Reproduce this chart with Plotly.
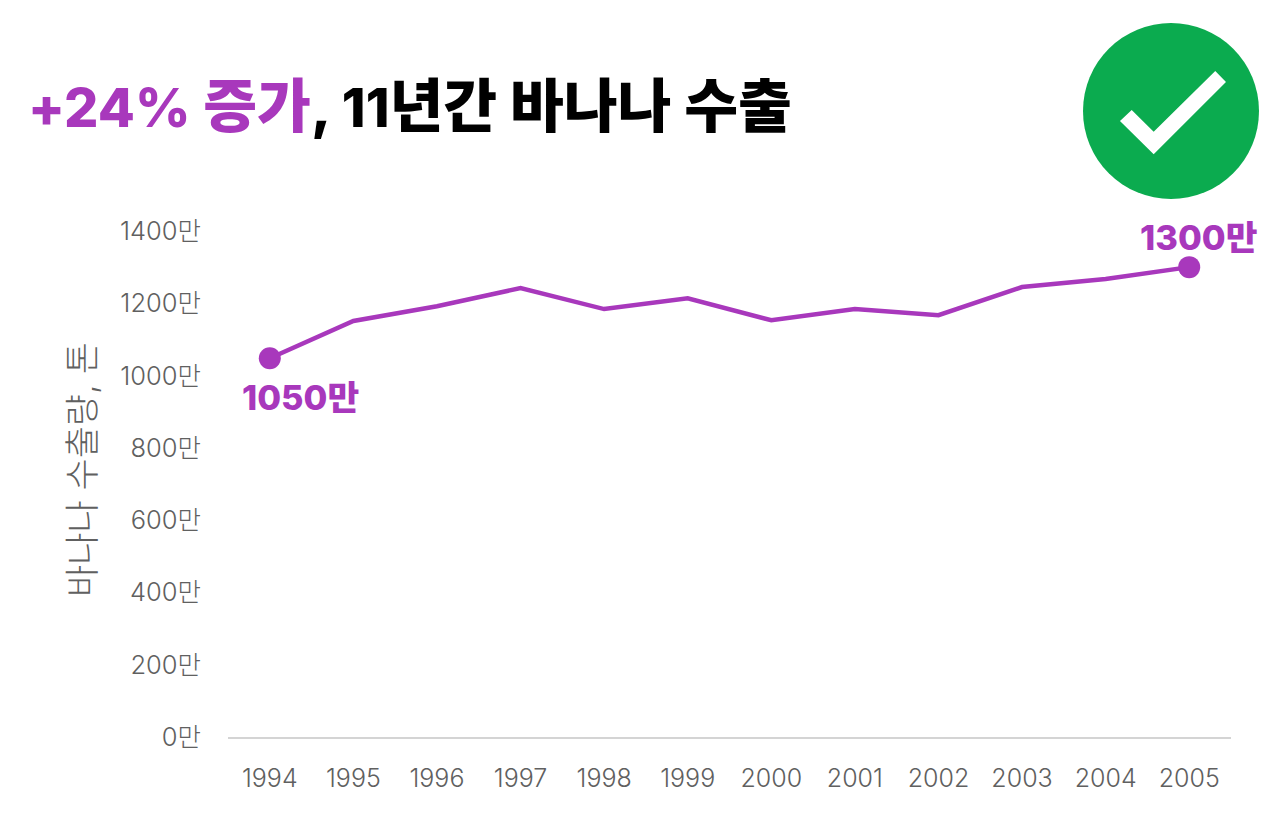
import plotly.graph_objects as go

years = ["1994", "1995", "1996", "1997", "1998", "1999", "2000", "2001", "2002", "2003", "2004", "2005"]
exports = [1048, 1151, 1192, 1242, 1184, 1214, 1153, 1184, 1167, 1245, 1267, 1300]
y_ticks = [0, 200, 400, 600, 800, 1000, 1200, 1400]
y_tick_labels = ["0만", "200만", "400만", "600만", "800만", "1000만", "1200만", "1400만"]
end_labels = ["1050만", "1300만"]

PURPLE = "#A838BC"
GREEN = "#0BAB4F"
GREY = "#606060"
FONT = "Inter, 'Noto Sans CJK KR', sans-serif"

# the page has an 8px body margin, so the figure is 8px smaller than the window
W, H = 1275, 824
OFFSET = 8
# plot area in window pixels
L, R, T, B = 228, 1231, 231, 737


def px(x):
    return (x - L) / (R - L)


def py(y):
    return (B - y) / (B - T)


check = [(1120, 121), (1131.7, 110), (1153.7, 131.7), (1215.3, 71), (1226, 82), (1153.7, 154.3)]
check_path = "M " + " L ".join(f"{px(x):.4f},{py(y):.4f}" for x, y in check) + " Z"

fig = go.Figure()
fig.add_trace(go.Scatter(
    x=years,
    y=exports,
    mode="lines",
    line=dict(color=PURPLE, width=4.5),
    hoverinfo="x+y",
    showlegend=False,
))
fig.add_trace(go.Scatter(
    x=[years[0], years[-1]],
    y=[exports[0], exports[-1]],
    mode="markers",
    marker=dict(color=PURPLE, size=22),
    hoverinfo="skip",
    showlegend=False,
))

# numeric positions: the years are category labels, so use their index on the axis
fig.add_annotation(xref="x", yref="y", x=0, y=exports[0], text=end_labels[0],
                   showarrow=False, xshift=31, yshift=-39,
                   font=dict(family=FONT, size=34.5, color=PURPLE, weight=800))
fig.add_annotation(xref="x", yref="y", x=len(years) - 1, y=exports[-1], text=end_labels[1],
                   showarrow=False, xshift=9, yshift=30,
                   font=dict(family=FONT, size=34.5, color=PURPLE, weight=800))

# title
fig.add_annotation(
    xref="paper", yref="paper", x=px(26), y=py(105), xanchor="left", yanchor="middle",
    showarrow=False,
    text=(f"<span style='color:{PURPLE}'><span style='font-size:54px'>+24%</span> 증가</span>"
          ", <span style='font-size:54px'>11</span>년간 바나나 수출"),
    font=dict(family=FONT, size=58.5, color="#000000", weight=800),
)

# y axis title
fig.add_annotation(
    xref="paper", yref="paper", x=px(82), y=py(470), textangle=-90,
    xanchor="center", yanchor="middle",
    showarrow=False, text="바나나 수출량, 톤",
    font=dict(family=FONT, size=35, color=GREY, weight=300),
)

fig.add_shape(type="circle", xref="paper", yref="paper",
              x0=px(1083), x1=px(1259), y0=py(199), y1=py(23),
              fillcolor=GREEN, line=dict(width=0))
fig.add_shape(type="path", xref="paper", yref="paper", path=check_path,
              fillcolor="white", line=dict(width=0))

fig.update_layout(
    width=W,
    height=H,
    margin=dict(l=L - OFFSET, r=W + OFFSET - R, t=T - OFFSET, b=H + OFFSET - B, pad=0),
    plot_bgcolor="white",
    paper_bgcolor="white",
    font=dict(family=FONT, color=GREY),
    showlegend=False,
)
fig.update_xaxes(
    type="category",
    range=[-0.5, 11.5],
    showgrid=False,
    showline=True,
    linecolor="#D4D4D4",
    linewidth=2,
    ticks="",
    tickfont=dict(family=FONT, size=25, color=GREY, weight=300),
    ticklabelstandoff=18,
)
fig.update_yaxes(
    range=[0, 1400],
    tickvals=y_ticks,
    ticktext=y_tick_labels,
    showgrid=False,
    zeroline=False,
    showline=False,
    ticks="",
    tickfont=dict(family=FONT, size=25.5, color=GREY, weight=300),
    ticklabelstandoff=26,
)

fig.write_html("out.html")
